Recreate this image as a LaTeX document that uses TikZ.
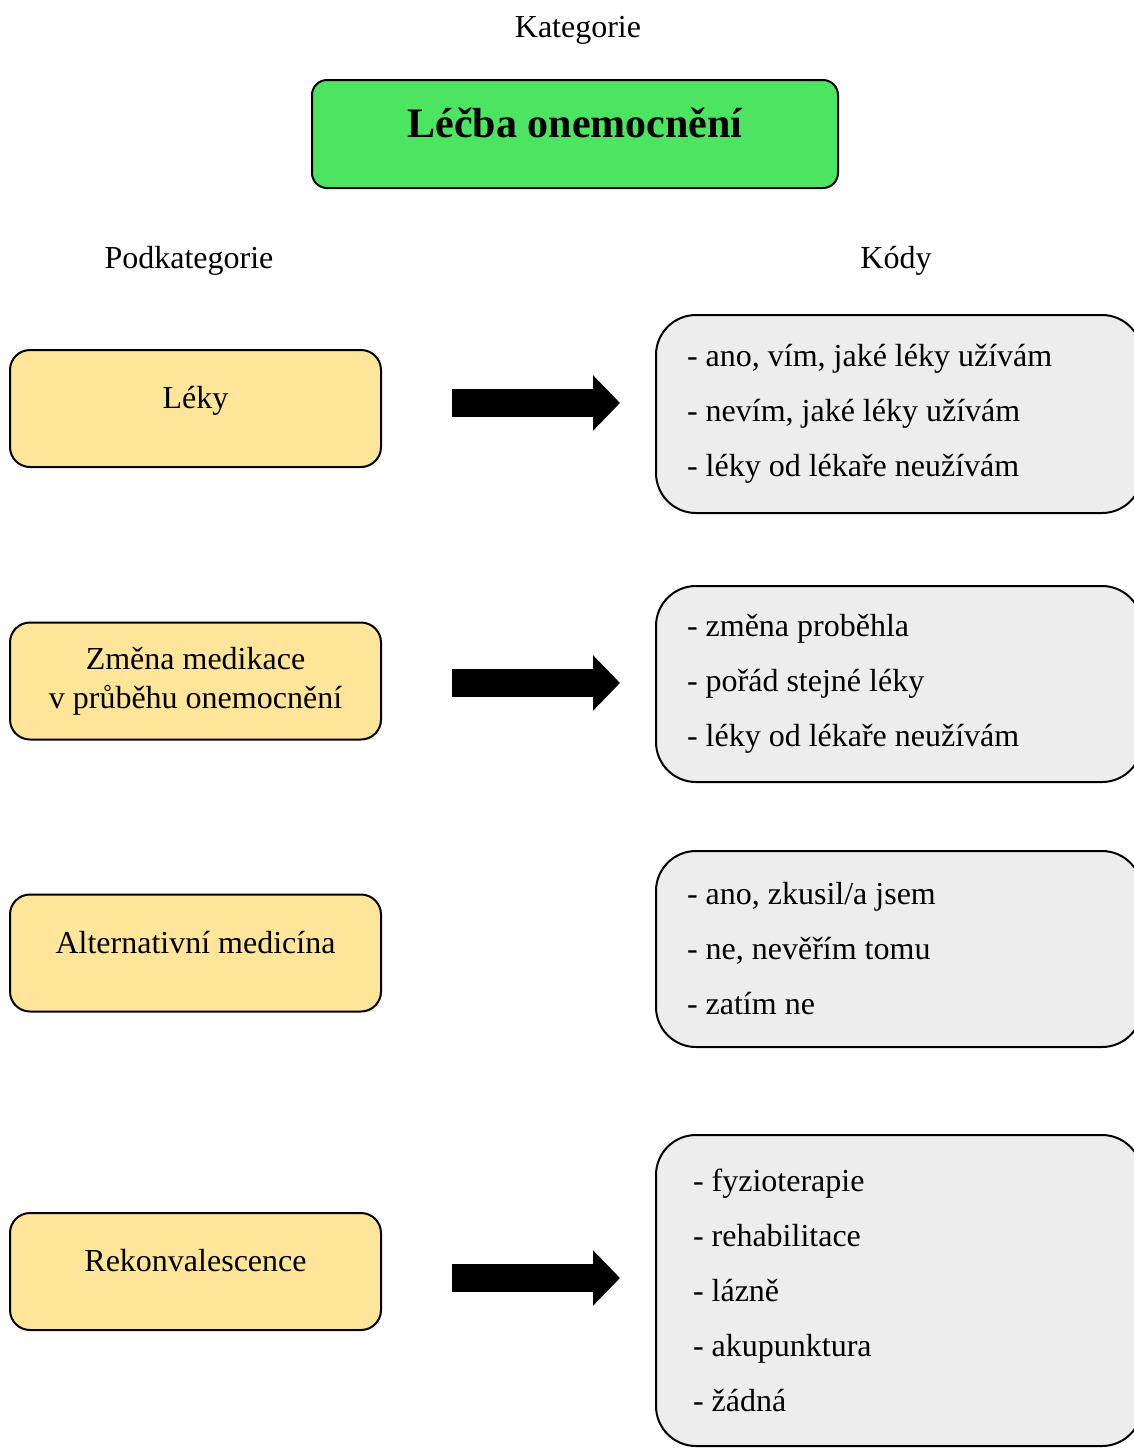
\documentclass[tikz,border=0pt]{standalone}
\usepackage{fontspec}
\setmainfont{Liberation Serif}
\usetikzlibrary{calc,arrows.meta}
\definecolor{catgreen}{RGB}{76,228,96}
\definecolor{subyellow}{RGB}{255,229,153}
\definecolor{codegray}{RGB}{237,237,237}
\begin{document}
\begin{tikzpicture}[x=0.5pt,y=-0.5pt,
  heading/.style={font=\fontsize{16}{19}\selectfont},
  catbox/.style={draw, line width=1pt, fill=catgreen, rounded corners=7.5pt,
    minimum width=263pt, minimum height=54pt, inner sep=0pt,
    font=\fontsize{21}{25}\selectfont\bfseries, text height=15pt, text depth=12pt},
  subbox/.style={draw, line width=1pt, fill=subyellow, rounded corners=10pt,
    minimum width=185.5pt, minimum height=58.5pt, inner sep=0pt, align=center,
    font=\fontsize{16}{19.5}\selectfont},
  subline/.style={subbox, text height=10pt, text depth=10pt},
  codebox/.style={draw, line width=1pt, fill=codegray, rounded corners=20pt,
    text width=212pt, inner xsep=15.5pt, inner ysep=0pt, align=flush left,
    font=\fontsize{16}{27.5}\selectfont},
  blockarrow/.style={line width=14pt, -{Triangle[length=13.5pt,width=27pt]}}
]
\useasboundingbox (0,0) rectangle (1134,1448);
\fill[white] (0,0) rectangle (1134,1448);
\clip (0,0) rectangle (1134,1448);

% headings
\node[heading] (hcat) at (578,30) {Kategorie};
\node[heading] (hsub) at (189,261) {Podkategorie};
\node[heading] (hcode) at (896,261) {Kódy};

% category
\node[catbox] (cat) at (575,134) {Léčba onemocnění};

% subcategories
\node[subline] (l1) at (195.5,408.5) {Léky};
\node[subbox]  (l2) at (195.5,681) {Změna medikace\\v průběhu onemocnění};
\node[subline] (l3) at (195.5,953) {Alternativní medicína};
\node[subline] (l4) at (195.5,1271.5) {Rekonvalescence};

% codes
\node[codebox, minimum height=99pt] (c1) at (899,414)
  {- ano, vím, jaké léky užívám\\- nevím, jaké léky užívám\\- léky od lékaře neužívám};
\node[codebox, minimum height=98pt] (c2) at (899,684)
  {- změna proběhla\\- pořád stejné léky\\- léky od lékaře neužívám};
\node[codebox, minimum height=98pt] (c3) at (899,949)
  {- ano, zkusil/a jsem\\- ne, nevěřím tomu\\- zatím ne};
\node[codebox, minimum height=155.5pt, inner xsep=18.5pt, text width=206pt] (c4) at (899,1290.5)
  {- fyzioterapie\\- rehabilitace\\- lázně\\- akupunktura\\- žádná};

% block arrows
\coordinate (a1s) at ($(l1.east)+(70,-5.5)$);
\coordinate (a2s) at ($(l2.east)+(70,2)$);
\coordinate (a4s) at ($(l4.east)+(70,6.5)$);
\draw[blockarrow] (a1s) -- ($(a1s -| c1.west)+(-35,0)$);
\draw[blockarrow] (a2s) -- ($(a2s -| c2.west)+(-35,0)$);
\draw[blockarrow] (a4s) -- ($(a4s -| c4.west)+(-35,0)$);
\end{tikzpicture}
\end{document}
